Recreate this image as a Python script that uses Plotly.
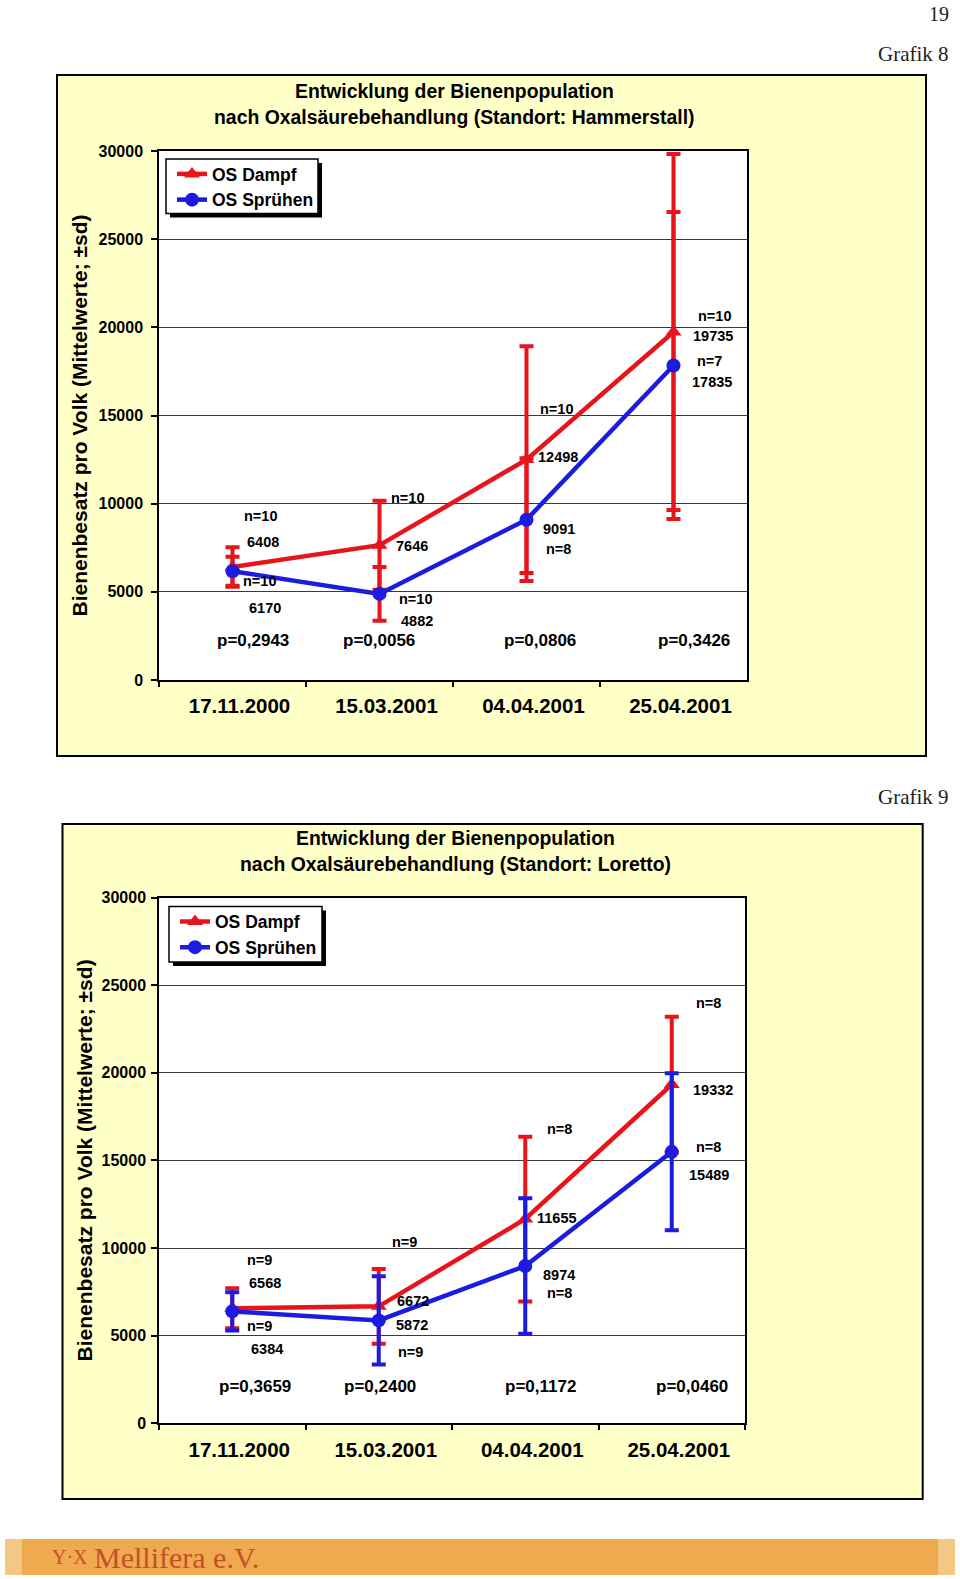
import plotly.graph_objects as go

W, H = 960, 1579
FONT = "Liberation Sans"
SERIF = "Liberation Serif"
RED = "#E8141B"
BLUE = "#1C1CE0"
YELLOW = "#FFFFC8"

# ---------------- data ----------------
dates = ["17.11.2000", "15.03.2001", "04.04.2001", "25.04.2001"]
series_names = ["OS Dampf", "OS Sprühen"]
y_ticks = [0, 5000, 10000, 15000, 20000, 25000, 30000]

# Grafik 8: Hammerstall
h_dampf = [6408, 7646, 12498, 19735]
h_dampf_sd = [1120, 2526, 6430, 10100]
h_spr = [6170, 4882, 9091, 17835]
h_spr_sd = [825, 1520, 3480, 8700]
h_n_dampf = [10, 10, 10, 10]
h_n_spr = [10, 10, 8, 7]
h_p = ["0,2943", "0,0056", "0,0806", "0,3426"]

# Grafik 9: Loretto
l_dampf = [6568, 6672, 11655, 19332]
l_dampf_sd = [1140, 2130, 4700, 3870]
l_spr = [6384, 5872, 8974, 15489]
l_spr_sd = [1095, 2520, 3870, 4480]
l_n_dampf = [9, 9, 8, 8]
l_n_spr = [9, 9, 8, 8]
l_p = ["0,3659", "0,2400", "0,1172", "0,0460"]

# ------------- label placement (data-y, pixel x-shift) -------------
h_lab = dict(
    dn_y=[9314, 10343, 15371, 20629], dn_dx=[28, 28, 30, 41],
    dv_y=[7829, 7600, 12629, 19486], dv_dx=[30, 32, 31, 39],
    sn_y=[5600, 4571, 7429, 18114], sn_dx=[27, 36, 32, 36],
    sv_y=[4057, 3371, 8571, 16914], sv_dx=[32, 37, 32, 38],
    p_y=2229, p_dx=[20, -1, 13, 20],
)
l_lab = dict(
    dn_y=[9310, 10345, 16782, 23966], dn_dx=[27, 26, 34, 37],
    dv_y=[7989, 6954, 11724, 19023], dv_dx=[33, 34, 32, 41],
    sn_y=[5575, 4080, 7414, 15747], sn_dx=[27, 32, 34, 37],
    sv_y=[4253, 5632, 8448, 14195], sv_dx=[35, 33, 34, 37],
    p_y=2126, p_dx=[23, 1, 15, 20],
)

charts = [
    dict(dampf=h_dampf, dampf_sd=h_dampf_sd, spr=h_spr, spr_sd=h_spr_sd,
         n_d=h_n_dampf, n_s=h_n_spr, p=h_p, lab=h_lab, spr_err_color=RED,
         title=["Entwicklung der Bienenpopulation",
                "nach Oxalsäurebehandlung (Standort: Hammerstall)"],
         box=(57, 75, 926, 756), plot=(159, 151, 747, 680),
         title_xy=(454, 91, 117), ytitle_x=79, ystand=5,
         leg=(166, 159, 318, 213.5), graf=("Grafik 8", 54)),
    dict(dampf=l_dampf, dampf_sd=l_dampf_sd, spr=l_spr, spr_sd=l_spr_sd,
         n_d=l_n_dampf, n_s=l_n_spr, p=l_p, lab=l_lab, spr_err_color=BLUE,
         title=["Entwicklung der Bienenpopulation",
                "nach Oxalsäurebehandlung (Standort: Loretto)"],
         box=(62.5, 824, 922.7, 1499), plot=(159, 897.5, 745, 1423.3),
         title_xy=(455, 838, 864), ytitle_x=84, ystand=2,
         leg=(169, 906.5, 322, 962), graf=("Grafik 9", 797)),
]


def fx(v):
    return v / W


def fy(v):
    return 1 - v / H


fig = go.Figure()
shapes = []
annotations = []
layout = {}

for i, c in enumerate(charts):
    k = "" if i == 0 else str(i + 1)
    xa, ya = "x" + k, "y" + k
    legname = "legend" if i == 0 else "legend2"

    fig.add_trace(go.Scatter(
        x=dates, y=c["dampf"], name=series_names[0], mode="lines+markers",
        xaxis=xa, yaxis=ya, legend=legname,
        line=dict(color=RED, width=4.5),
        marker=dict(symbol="triangle-up", size=14, color=RED),
        error_y=dict(type="data", array=c["dampf_sd"], visible=True,
                     color=RED, thickness=4, width=7),
    ))
    fig.add_trace(go.Scatter(
        x=dates, y=c["spr"], name=series_names[1], mode="lines+markers",
        xaxis=xa, yaxis=ya, legend=legname,
        line=dict(color=BLUE, width=4.5),
        marker=dict(symbol="circle", size=14, color=BLUE),
        error_y=dict(type="data", array=c["spr_sd"], visible=True,
                     color=c["spr_err_color"], thickness=4, width=7),
    ))

    x0, y0, x1, y1 = c["plot"]
    layout["xaxis" + k] = dict(
        domain=[fx(x0), fx(x1)], anchor=ya, type="category",
        categoryorder="array", categoryarray=dates, range=[-0.5, 3.5],
        tickson="boundaries", ticks="outside", ticklen=5, tickwidth=1.5,
        tickcolor="black", showline=True, mirror=True, linecolor="black",
        linewidth=1.5, showgrid=False, zeroline=False, automargin=False,
        tickfont=dict(family=FONT, size=20.5, color="black", weight="bold"),
        ticklabelstandoff=7, ticklabelshift=7,
    )
    layout["yaxis" + k] = dict(
        domain=[fy(y1), fy(y0)], anchor=xa, range=[0, 30000],
        tickvals=y_ticks, ticktext=[str(t) for t in y_ticks],
        ticks="outside", ticklen=6, tickwidth=1.5, tickcolor="black",
        showline=True, mirror=True, linecolor="black", linewidth=1.5,
        showgrid=True, gridcolor="#3a3a3a", gridwidth=1, zeroline=False,
        automargin=False,
        tickfont=dict(family=FONT, size=16, color="black", weight="bold"),
        ticklabelstandoff=c["ystand"],
    )

    # yellow frame + white plot area
    bx0, by0, bx1, by1 = c["box"]
    shapes.append(dict(type="rect", xref="paper", yref="paper", layer="below",
                       x0=fx(bx0), x1=fx(bx1), y0=fy(by1), y1=fy(by0),
                       fillcolor=YELLOW, line=dict(color="black", width=2)))
    shapes.append(dict(type="rect", xref="paper", yref="paper", layer="below",
                       x0=fx(x0), x1=fx(x1), y0=fy(y1), y1=fy(y0),
                       fillcolor="white", line=dict(width=0)))
    # legend box with shadow
    lx0, ly0, lx1, ly1 = c["leg"]
    shapes.append(dict(type="rect", xref="paper", yref="paper", layer="below",
                       x0=fx(lx0 + 4), x1=fx(lx1 + 4), y0=fy(ly1 + 4), y1=fy(ly0 + 4),
                       fillcolor="black", line=dict(width=0)))
    shapes.append(dict(type="rect", xref="paper", yref="paper", layer="below",
                       x0=fx(lx0), x1=fx(lx1), y0=fy(ly1), y1=fy(ly0),
                       fillcolor="white", line=dict(color="black", width=1.5)))
    layout[legname] = dict(
        x=fx(lx0 + 6), y=fy(ly0 - 3), xanchor="left", yanchor="top",
        bgcolor="rgba(0,0,0,0)", borderwidth=0, tracegroupgap=0,
        font=dict(family=FONT, size=17.5, color="black", weight="bold"),
        itemwidth=30,
    )

    # titles
    tx, t1, t2 = c["title_xy"]
    for txt, ty in zip(c["title"], (t1, t2)):
        annotations.append(dict(text=txt, xref="paper", yref="paper",
                                x=fx(tx), y=fy(ty), showarrow=False,
                                xanchor="center", yanchor="middle",
                                font=dict(family=FONT, size=19.4, color="black", weight="bold")))
    annotations.append(dict(text="Bienenbesatz pro Volk (Mittelwerte; ±sd)",
                            xref="paper", yref="paper", x=fx(c["ytitle_x"]),
                            y=fy((y0 + y1) / 2), textangle=-90, showarrow=False,
                            xanchor="center", yanchor="middle",
                            font=dict(family=FONT, size=21, color="black", weight="bold")))
    gtxt, gy = c["graf"]
    annotations.append(dict(text=gtxt, xref="paper", yref="paper", x=fx(951),
                            y=fy(gy), showarrow=False, xanchor="right", yanchor="middle",
                            font=dict(family=SERIF, size=21, color="#222")))

    # data labels
    lab = c["lab"]
    small = dict(family=FONT, size=14.5, color="black", weight="bold")
    for j, d in enumerate(dates):
        for txt, yv, dx in [
            (f"n={c['n_d'][j]}", lab["dn_y"][j], lab["dn_dx"][j]),
            (f"{c['dampf'][j]}", lab["dv_y"][j], lab["dv_dx"][j]),
            (f"n={c['n_s'][j]}", lab["sn_y"][j], lab["sn_dx"][j]),
            (f"{c['spr'][j]}", lab["sv_y"][j], lab["sv_dx"][j]),
        ]:
            annotations.append(dict(text=txt, xref=xa, yref=ya, x=d, y=yv,
                                    xshift=dx, showarrow=False, font=small))
        annotations.append(dict(text=f"p={c['p'][j]}", xref=xa, yref=ya, x=d,
                                y=lab["p_y"], xshift=lab["p_dx"][j], showarrow=False,
                                font=dict(family=FONT, size=17, color="black", weight="bold")))

# page number
annotations.append(dict(text="19", xref="paper", yref="paper", x=fx(951), y=fy(14),
                        showarrow=False, xanchor="right", yanchor="middle",
                        font=dict(family=SERIF, size=20, color="#222")))

# footer banner
shapes.append(dict(type="rect", xref="paper", yref="paper", layer="below",
                   x0=fx(5), x1=fx(955), y0=fy(1575), y1=fy(1539),
                   fillcolor="#EFA94F", line=dict(width=0)))
shapes.append(dict(type="rect", xref="paper", yref="paper", layer="below",
                   x0=fx(5), x1=fx(22), y0=fy(1575), y1=fy(1539),
                   fillcolor="#F3C784", line=dict(width=0)))
shapes.append(dict(type="rect", xref="paper", yref="paper", layer="below",
                   x0=fx(938), x1=fx(955), y0=fy(1575), y1=fy(1539),
                   fillcolor="#F3C784", line=dict(width=0)))
annotations.append(dict(text="Mellifera e.V.", xref="paper", yref="paper",
                        x=fx(92), y=fy(1557), showarrow=False, xanchor="left",
                        yanchor="middle", font=dict(family=SERIF, size=30, color="#C4502A")))
annotations.append(dict(text="Y·X", xref="paper", yref="paper",
                        x=fx(50), y=fy(1557), showarrow=False, xanchor="left",
                        yanchor="middle", font=dict(family=SERIF, size=20, color="#C4502A")))

fig.update_layout(
    width=W, height=H, autosize=False,
    margin=dict(l=0, r=0, t=0, b=0, pad=0, autoexpand=False),
    paper_bgcolor="white", plot_bgcolor="rgba(0,0,0,0)",
    showlegend=True, shapes=shapes, annotations=annotations,
    **layout,
)

fig.write_html(
    "out.html",
    config={"displayModeBar": False},
    post_script=(
        "document.documentElement.style.margin='0';"
        "document.body.style.margin='0';document.body.style.padding='0';"
        "var d=document.getElementById('{plot_id}');"
        "d.style.position='fixed';d.style.top='0px';d.style.left='0px';"
    ),
)
